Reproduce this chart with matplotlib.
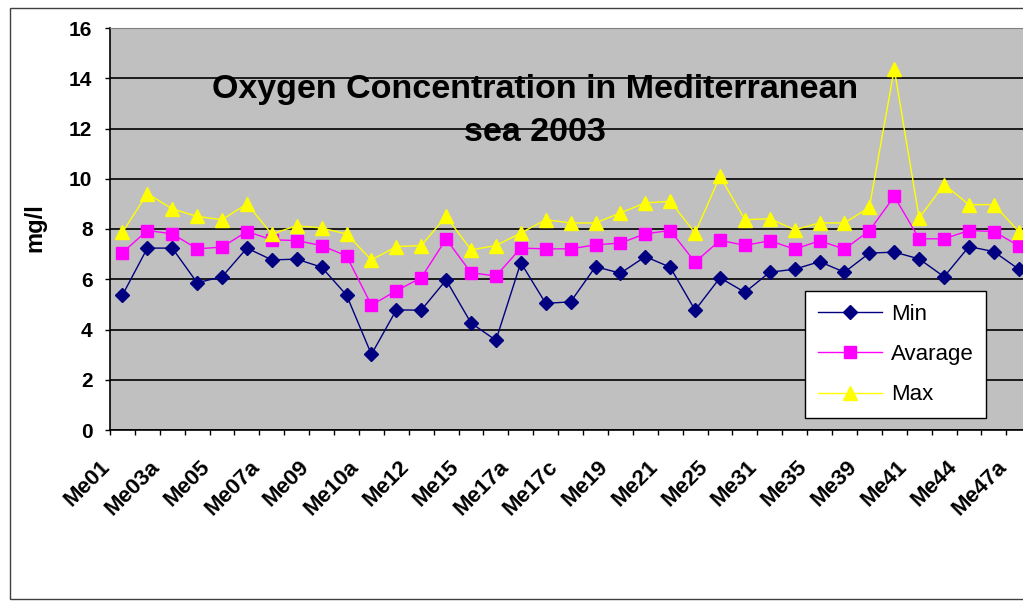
import numpy as np
import matplotlib
matplotlib.use('Agg')
from matplotlib import pyplot as plt
from matplotlib.patches import Rectangle
from matplotlib.transforms import ScaledTranslation

plt.rcParams['font.family'] = ['Liberation Sans', 'DejaVu Sans']

# station labels (only every second station is labelled on the axis)
tick_labels = ['Me01', 'Me03a', 'Me05', 'Me07a', 'Me09', 'Me10a', 'Me12', 'Me15', 'Me17a',
               'Me17c', 'Me19', 'Me21', 'Me25', 'Me31', 'Me35', 'Me39', 'Me41', 'Me44', 'Me47a']

# oxygen values, mg/l
min_vals = [5.37, 7.24, 7.24, 5.86, 6.10, 7.24, 6.77, 6.80, 6.48, 5.37, 3.01, 4.78, 4.77,
            5.97, 4.26, 3.57, 6.66, 5.04, 5.10, 6.50, 6.24, 6.90, 6.48, 4.77, 6.06, 5.48,
            6.28, 6.40, 6.70, 6.28, 7.04, 7.08, 6.81, 6.10, 7.30, 7.10, 6.40]
avg_vals = [7.06, 7.94, 7.81, 7.21, 7.28, 7.90, 7.57, 7.54, 7.34, 6.93, 4.97, 5.54, 6.06,
            7.60, 6.26, 6.13, 7.24, 7.21, 7.21, 7.37, 7.44, 7.81, 7.94, 6.68, 7.55, 7.35,
            7.53, 7.20, 7.53, 7.20, 7.93, 9.30, 7.61, 7.61, 7.94, 7.90, 7.33]
max_vals = [7.87, 9.41, 8.80, 8.50, 8.37, 9.00, 7.80, 8.13, 8.04, 7.80, 6.77, 7.30, 7.34,
            8.50, 7.17, 7.34, 7.84, 8.37, 8.24, 8.24, 8.64, 9.04, 9.10, 7.84, 10.10, 8.37,
            8.41, 7.97, 8.24, 8.24, 8.86, 14.37, 8.44, 9.77, 8.97, 8.97, 7.90]

x = np.arange(len(min_vals))
label_pos = x[::2]

W, H = 1023, 601
fig = plt.figure(figsize=(W / 100, H / 100), dpi=100)

# outer chart frame (runs off the right edge like the screenshot)
fig.patches.append(Rectangle((10 / W, 1 - 599 / H), 1.2, 591 / H, transform=fig.transFigure,
                             fill=False, ec='#404040', lw=1))

# plot area runs past the right edge of the picture
ax = fig.add_axes([110 / W, 1 - 430 / H, 971 / W, 402 / H])
ax.set_facecolor('#C0C0C0')
ax.set_axisbelow(True)

ax.plot(x, min_vals, color='#000080', lw=1, marker='D', ms=7, label='Min')
ax.plot(x, avg_vals, color='#FF00FF', lw=1, marker='s', ms=8, label='Avarage')
ax.plot(x, max_vals, color='#FFFF00', lw=1, marker='^', ms=10, label='Max')

ax.set_xlim(-0.5, 38.5)
ax.set_ylim(0, 16)
ax.set_yticks(np.arange(0, 17, 2))
ax.yaxis.grid(True, color='black', lw=1.2)

# tick marks between categories, labels on every second category
ax.set_xticks(np.arange(-0.5, 39, 1))
ax.set_xticklabels([])
ax.set_xticks(label_pos, tick_labels, minor=True)
ax.tick_params(axis='x', which='major', direction='out', length=3.6, width=1)
ax.tick_params(axis='x', which='minor', length=0, pad=19)
shift = ScaledTranslation(-8 / 100, 0, fig.dpi_scale_trans)
for lbl in ax.get_xticklabels(minor=True):
    lbl.set_rotation(45)
    lbl.set_ha('right')
    lbl.set_va('top')
    lbl.set_fontsize(16)
    lbl.set_fontweight('bold')
    lbl.set_transform(lbl.get_transform() + shift)
ax.tick_params(axis='y', direction='out', length=3.6, width=1, pad=9, labelsize=15)
for lbl in ax.get_yticklabels():
    lbl.set_fontweight('bold')

ax.spines['top'].set_color('#808080')
ax.spines['right'].set_visible(False)
ax.spines['left'].set_linewidth(1.2)
ax.spines['bottom'].set_linewidth(1.2)

fig.text(535 / W, 1 - 111 / H, 'Oxygen Concentration in Mediterranean\nsea 2003',
         ha='center', va='center', fontsize=24.5, fontweight='bold', linespacing=1.5)
fig.text(35 / W, 1 - 228 / H, 'mg/l', rotation=90, ha='center', va='center',
         fontsize=17, fontweight='bold')

leg = ax.legend(loc='lower left', bbox_to_anchor=(805 / W, 1 - 418 / H),
                bbox_transform=fig.transFigure, fancybox=False, edgecolor='black',
                framealpha=1, borderaxespad=0, prop={'size': 16}, handlelength=2.9,
                labelspacing=0.87, borderpad=0.57, handletextpad=0.4)
leg.get_frame().set_linewidth(1)

fig.savefig('out.png', dpi=100)
